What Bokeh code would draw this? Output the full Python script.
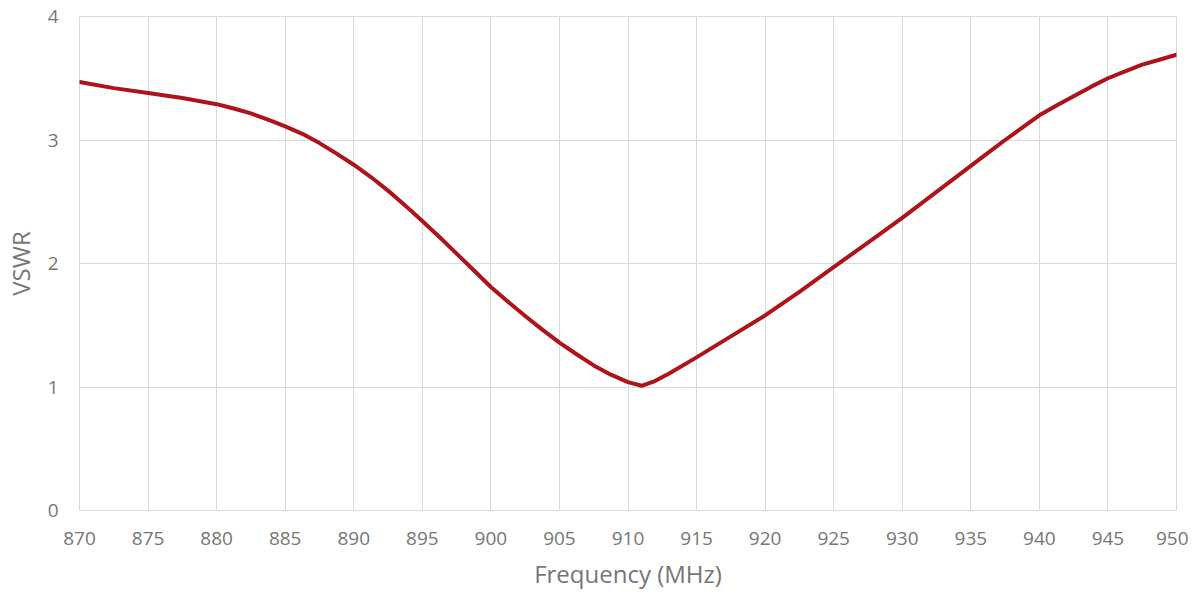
from bokeh.plotting import figure
from bokeh.models import Range1d, FixedTicker
from bokeh.embed import file_html
from bokeh.resources import INLINE

freq_mhz = [870, 872.5, 875, 877.5, 880, 881.25, 882.5, 883.75, 885, 886.25, 887.5,
            888.75, 890, 891.25, 892.5, 893.75, 895, 896.25, 897.5, 898.75, 900,
            901.25, 902.5, 903.75, 905, 906.25, 907.5, 908.75, 910, 911, 912, 913,
            915, 917.5, 920, 922.5, 925, 927.5, 930, 932.5, 935, 936.25, 937.5,
            938.75, 940, 941.25, 942.5, 943.75, 945, 946.25, 947.5, 948.75, 950]
vswr = [3.47, 3.42, 3.38, 3.34, 3.29, 3.255, 3.215, 3.165, 3.11, 3.05, 2.975,
        2.89, 2.80, 2.70, 2.59, 2.47, 2.345, 2.215, 2.08, 1.945, 1.81,
        1.69, 1.575, 1.465, 1.36, 1.265, 1.175, 1.10, 1.04, 1.01, 1.05, 1.11,
        1.24, 1.41, 1.58, 1.77, 1.97, 2.17, 2.37, 2.58, 2.79, 2.895, 3.0,
        3.10, 3.20, 3.28, 3.355, 3.43, 3.50, 3.555, 3.61, 3.65, 3.69]
x_ticks = list(range(870, 951, 5))
y_ticks = [0, 1, 2, 3, 4]

FONT = "Open Sans"
GRID = "#d9d9d9"
TXT = "#767676"

p = figure(width=1188, height=592, output_backend="svg", toolbar_location=None,
           x_range=Range1d(870, 950), y_range=Range1d(0, 4))
p.min_border_left = 70
p.min_border_right = 12
p.min_border_top = 16
p.min_border_bottom = 70
p.outline_line_color = GRID
p.background_fill_color = "white"
p.border_fill_color = "white"

p.line(freq_mhz, vswr, line_color="#AE1319", line_width=4, line_join="round", line_cap="round")

p.xaxis.ticker = FixedTicker(ticks=x_ticks)
p.yaxis.ticker = FixedTicker(ticks=y_ticks)
for ax in (p.xaxis[0], p.yaxis[0]):
    ax.axis_line_color = None
    ax.major_tick_line_color = None
    ax.minor_tick_line_color = None
    ax.major_tick_out = 0
    ax.major_tick_in = 0
    ax.major_label_text_font = FONT
    ax.major_label_text_font_size = "19px"
    ax.major_label_text_color = TXT
    ax.axis_label_text_font = FONT
    ax.axis_label_text_font_size = "24px"
    ax.axis_label_text_font_style = "normal"
    ax.axis_label_text_color = TXT

p.xaxis.axis_label = "Frequency (MHz)"
p.yaxis.axis_label = "VSWR"
p.xaxis.major_label_standoff = 21
p.xaxis.axis_label_standoff = 9
p.yaxis.major_label_standoff = 21
p.yaxis.axis_label_standoff = 8

p.xgrid.ticker = FixedTicker(ticks=x_ticks)
p.ygrid.ticker = FixedTicker(ticks=y_ticks)
p.grid.grid_line_color = GRID
p.grid.grid_line_width = 1

open("out.html", "w").write(file_html(p, INLINE))
